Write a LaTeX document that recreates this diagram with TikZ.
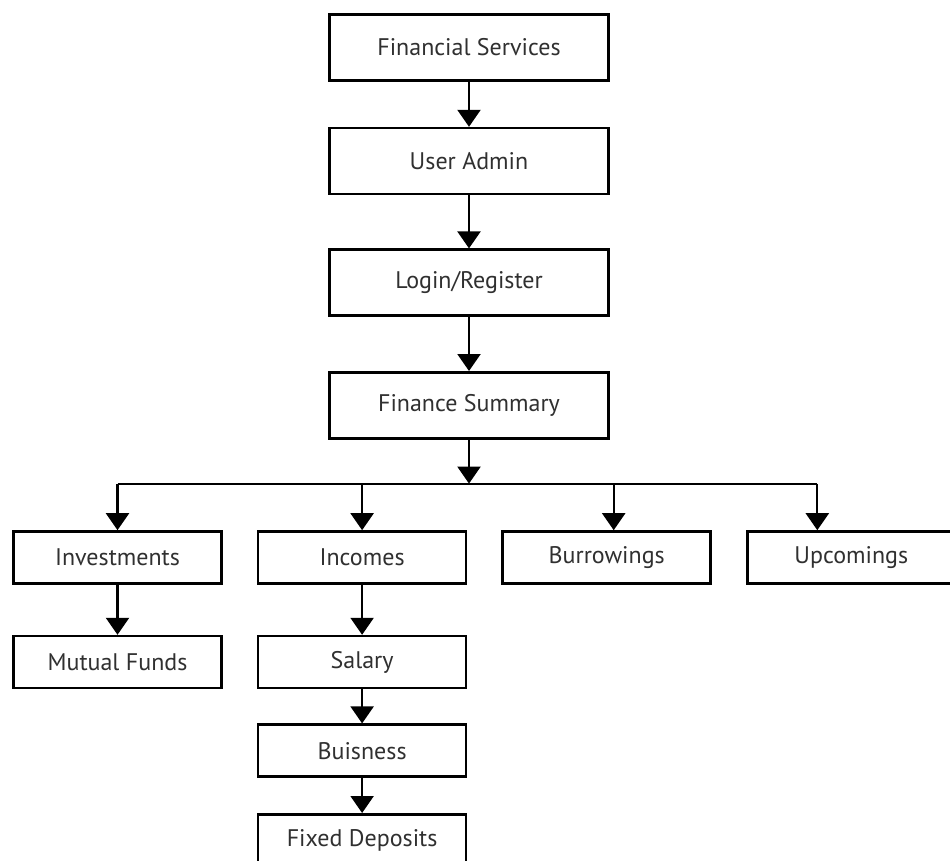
\documentclass[tikz,border=0pt]{standalone}
\usepackage{fontspec}
\setmainfont{PT Sans}
\usetikzlibrary{arrows.meta,positioning}
\definecolor{labelGray}{RGB}{48,48,48}
\tikzset{
  box/.style={draw=black, line width=2.6pt, fill=white, align=center, inner sep=0pt,
              minimum width=279pt, minimum height=66pt, text=labelGray,
              font=\fontsize{24}{28}\selectfont},
  subbox/.style={box, minimum width=208pt, minimum height=52pt},
  arrow/.style={-{Triangle[width=23pt,length=17pt]}, line width=2.2pt, draw=black},
  busline/.style={line width=2.2pt, draw=black}
}
\begin{document}
\begin{tikzpicture}[x=1pt, y=-1pt]
\useasboundingbox (0,0) rectangle (950,861);
\node[box] (fs) at (469,47.5) {Financial Services};
\node[box, below=45pt of fs] (ua) {User Admin};
\node[box, below=53pt of ua] (lr) {Login/Register};
\node[box, below=54pt of lr] (fsum) {Finance Summary};

\node[subbox] (inv) at (117.5,557.5) {Investments};
\node[subbox, right=34pt of inv] (inc) {Incomes};
\node[subbox, right=34pt of inc] (bur) {Burrowings};
\node[subbox, right=34pt of bur] (upc) {Upcomings};

\node[subbox, below=50pt of inv] (mf) {Mutual Funds};
\node[subbox, below=50pt of inc] (sal) {Salary};
\node[subbox, below=34pt of sal] (bsn) {Buisness};
\node[subbox, below=35pt of bsn] (fd) {Fixed Deposits};

\draw[arrow] (fs) -- (ua);
\draw[arrow] (ua) -- (lr);
\draw[arrow] (lr) -- (fsum);

\path (fsum.south) ++(0,44) coordinate (bus);
\coordinate (busB) at ([xshift=7pt]bur.north |- bus);
\coordinate (busU) at ([xshift=-34pt]upc.north |- bus);
\draw[busline] (inv.north |- bus) -- (busU);
\draw[arrow] (fsum) -- (bus);
\draw[arrow] (inv.north |- bus) -- (inv);
\draw[arrow] (inc.north |- bus) -- (inc);
\draw[arrow] (busB) -- (busB |- bur.north);
\draw[arrow] (busU) -- (busU |- upc.north);

\draw[arrow] (inv) -- (mf);
\draw[arrow] (inc) -- (sal);
\draw[arrow] (sal) -- (bsn);
\draw[arrow] (bsn) -- (fd);
\end{tikzpicture}
\end{document}
